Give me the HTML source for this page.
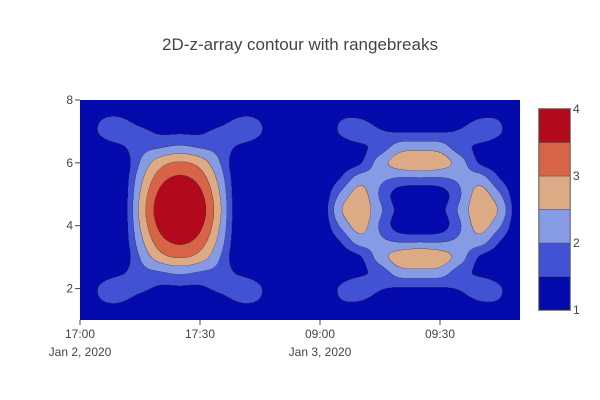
<!DOCTYPE html>
<html><head><meta charset="utf-8">
<style>
html,body{margin:0;padding:0;background:#fff;}
#root{position:relative;width:600px;height:400px;font-family:"Liberation Sans",sans-serif;color:#444;overflow:hidden;}
.t{position:absolute;font-size:12px;white-space:nowrap;}
</style></head>
<body>
<div id="root">
<div class="t" style="left:0;width:600px;text-align:center;top:35px;font-size:17px;">2D-z-array contour with rangebreaks</div>
<canvas id="cv" width="880" height="440" style="position:absolute;left:80px;top:100px;width:440px;height:220px;"></canvas>
<svg id="ax" width="600" height="400" style="position:absolute;left:0;top:0;"></svg>
</div>
<script>
// ---- data ----
const xTimes = ["2020-01-02 17:00","2020-01-02 17:05","2020-01-02 17:10","2020-01-02 17:15","2020-01-02 17:20","2020-01-02 17:25","2020-01-02 17:30","2020-01-02 17:35","2020-01-02 17:40","2020-01-02 17:45","2020-01-02 17:50","2020-01-02 17:55","2020-01-02 18:00",
"2020-01-03 09:00","2020-01-03 09:05","2020-01-03 09:10","2020-01-03 09:15","2020-01-03 09:20","2020-01-03 09:25","2020-01-03 09:30","2020-01-03 09:35","2020-01-03 09:40","2020-01-03 09:45","2020-01-03 09:50"];
const yVals = [1,1.5,2,2.5,3,3.5,4,4.5,5,5.5,6,6.5,7,7.5,8];
const zRows = [
[1,1,1,1,1,1,1,1,1,1,1,1,1, 1,1,1,1,1,1,1,1,1,1,1],
[1,1.4,1.45,1.1,1,1,1,1.1,1.45,1.4,1,1,1, 1,1.4,1.4,1.1,1,1,1,1.1,1.4,1.4,1],
[1,1.55,1.9,1.65,1.4,1.4,1.4,1.65,1.9,1.55,1,1,1, 1,1.55,1.85,1.55,1.45,1.45,1.45,1.55,1.85,1.55,1],
[1,1.2,1.4,1.8,1.95,2.09,1.95,1.8,1.4,1.2,1,1,1, 1,1.2,1.4,1.7,2.25,2.3,2.25,1.7,1.4,1.2,1],
[1,1,1,2.02,2.79,3.05,2.79,2.02,1,1,1,1,1, 1,1.2,1.45,2.25,2.75,2.9,2.75,2.25,1.45,1.2,1],
[1,1,1,2.3,3.28,3.6,3.28,2.3,1,1,1,1,1, 1,1.5,2.25,2.1,1.95,1.95,1.95,2.1,2.25,1.5,1],
[1,1,1,2.5,3.63,4.0,3.63,2.5,1,1,1,1,1, 1,2.05,2.7,1.95,1.2,1.05,1.2,1.95,2.7,2.05,1],
[1,1,1,2.6,3.8,4.2,3.8,2.6,1,1,1,1,1, 1,2.4,2.85,2.1,1.3,0.9,1.3,2.1,2.85,2.4,1],
[1,1,1,2.5,3.63,4.0,3.63,2.5,1,1,1,1,1, 1,2.05,2.7,1.95,1.2,1.05,1.2,1.95,2.7,2.05,1],
[1,1,1,2.3,3.28,3.6,3.28,2.3,1,1,1,1,1, 1,1.5,2.25,2.1,1.95,1.95,1.95,2.1,2.25,1.5,1],
[1,1,1,2.02,2.79,3.05,2.79,2.02,1,1,1,1,1, 1,1.2,1.45,2.25,2.75,2.9,2.75,2.25,1.45,1.2,1],
[1,1.2,1.4,1.8,1.95,2.09,1.95,1.8,1.4,1.2,1,1,1, 1,1.2,1.4,1.7,2.25,2.3,2.25,1.7,1.4,1.2,1],
[1,1.55,1.9,1.65,1.4,1.4,1.4,1.65,1.9,1.55,1,1,1, 1,1.55,1.85,1.55,1.45,1.45,1.45,1.55,1.85,1.55,1],
[1,1.4,1.45,1.1,1,1,1,1.1,1.45,1.4,1,1,1, 1,1.4,1.4,1.1,1,1,1,1.1,1.4,1.4,1],
[1,1,1,1,1,1,1,1,1,1,1,1,1, 1,1,1,1,1,1,1,1,1,1,1]
];
const contourStart = 1, contourSize = 0.5;
const bandColors = [[5,10,172],[65,82,212],[135,155,228],[220,170,132],[215,100,70],[178,10,28]];
const xTickTimes = ["2020-01-02 17:00","2020-01-02 17:30","2020-01-03 09:00","2020-01-03 09:30"];
const xTickLines = [["17:00","Jan 2, 2020"],["17:30",""],["09:00","Jan 3, 2020"],["09:30",""]];
const yTicks = [2,4,6,8];
const cbTicks = [1,2,3,4];
const breakBounds = ["2020-01-02 18:00","2020-01-03 09:00"];

// ---- axes ----
const PL=80, PR=520, PT=100, PB=320;
function tmin(s){const d=new Date(s.replace(' ','T')+':00Z');return d.getTime()/60000;}
const x0=tmin(xTimes[0]), bS=tmin(breakBounds[0]), bE=tmin(breakBounds[1]), xEnd=tmin(xTimes[xTimes.length-1]);
const span=(bS-x0)+(xEnd-bE);
function xScale(s){let t=tmin(s);let u=t<=bS?t-x0:(bS-x0)+(t-bE);return PL+u/span*(PR-PL);}
const yMin=yVals[0], yMax=yVals[yVals.length-1];
function yScale(v){return PB-(v-yMin)/(yMax-yMin)*(PB-PT);}

// ---- render contour ----
const cv=document.getElementById('cv'), ctx=cv.getContext('2d');
const W=cv.width,H=cv.height,S=2;
const colPx=xTimes.map(xScale), rowPx=yVals.map(yScale);
function bracket(arr,v){
  for(let k=0;k<arr.length-1;k++){
    const a=arr[k],b=arr[k+1];
    if(a===b) continue;
    const lo=Math.min(a,b),hi=Math.max(a,b);
    if(v>=lo&&v<=hi) return [k,(v-a)/(b-a)];
  }
  return [arr.length-2,1];
}
const NR=zRows.length, NC=zRows[0].length;
function zAt(r,c){r=Math.max(0,Math.min(NR-1,r));c=Math.max(0,Math.min(NC-1,c));return zRows[r][c];}
function cr(p0,p1,p2,p3,t){return 0.5*((2*p1)+(-p0+p2)*t+(2*p0-5*p1+4*p2-p3)*t*t+(-p0+3*p1-3*p2+p3)*t*t*t);}
const band=new Int8Array(W*H);
const nb=bandColors.length;
for(let j=0;j<H;j++){
  const py=PT+(j+0.5)/S;
  const [r,fy]=bracket(rowPx,py);
  for(let i=0;i<W;i++){
    const px=PL+(i+0.5)/S;
    const [c,fx]=bracket(colPx,px);
    const rowv=[];
    for(let m=-1;m<=2;m++){
      rowv.push(cr(zAt(r+m,c-1),zAt(r+m,c),zAt(r+m,c+1),zAt(r+m,c+2),fx));
    }
    const z=cr(rowv[0],rowv[1],rowv[2],rowv[3],fy);
    let b=Math.floor((z-contourStart)/contourSize);
    if(b<0)b=0; if(b>nb-1)b=nb-1;
    band[j*W+i]=b;
  }
}
const img=ctx.createImageData(W,H);
for(let j=0;j<H;j++)for(let i=0;i<W;i++){
  const k=j*W+i,b=band[k];let c=bandColors[b];
  let edge=(i<W-1&&band[k+1]!==b)||(j<H-1&&band[k+W]!==b);
  let m=edge?0.45:1;
  img.data[k*4]=c[0]*m+(edge?20:0);img.data[k*4+1]=c[1]*m+(edge?20:0);img.data[k*4+2]=c[2]*m+(edge?20:0);img.data[k*4+3]=255;
}
ctx.putImageData(img,0,0);

// ---- svg axes ----
const NS='http://www.w3.org/2000/svg', svg=document.getElementById('ax');
function mk(tag,attrs,txt){const e=document.createElementNS(NS,tag);for(const k in attrs)e.setAttribute(k,attrs[k]);if(txt!==undefined)e.textContent=txt;svg.appendChild(e);return e;}
yTicks.forEach(v=>{
  const y=yScale(v);
  const tk=mk('line',{x1:PL-5,x2:PL,y1:y,y2:y,stroke:'#444','stroke-width':1});
  
  
  const t=mk('text',{x:PL-7,y:y+4,'text-anchor':'end','font-size':12,fill:'#444','font-family':'Liberation Sans, sans-serif'},String(v));
  
  
});
xTickTimes.forEach((s,i)=>{
  const x=xScale(s);
  const tk=mk('line',{x1:x,x2:x,y1:PB,y2:PB+5,stroke:'#444','stroke-width':1});
  
  
  const t=mk('text',{x:x,y:PB+18,'text-anchor':'middle','font-size':12,fill:'#444','font-family':'Liberation Sans, sans-serif'},xTickLines[i][0]);
  
  
  if(xTickLines[i][1]){
    const t2=mk('text',{x:x,y:PB+36,'text-anchor':'middle','font-size':12,fill:'#444','font-family':'Liberation Sans, sans-serif'},xTickLines[i][1]);
    
    
  }
});
// colorbar
const CBX=539,CBW=31,CBT=109,CBB=310;
const cbMin=cbTicks[0],cbMax=cbTicks[cbTicks.length-1];
function cbScale(v){return CBB-(v-cbMin)/(cbMax-cbMin)*(CBB-CBT);}
bandColors.forEach((c,i)=>{
  const v0=contourStart+i*contourSize,v1=v0+contourSize;
  const r=mk('rect',{x:CBX,y:cbScale(v1),width:CBW,height:cbScale(v0)-cbScale(v1),fill:`rgb(${c[0]},${c[1]},${c[2]})`,stroke:'#555','stroke-width':0.5});
  
  
});
const ol=mk('rect',{x:CBX-0.5,y:CBT-0.5,width:CBW+1,height:CBB-CBT+1,fill:'none',stroke:'#888','stroke-width':1});


cbTicks.forEach(v=>{
  const t=mk('text',{x:CBX+CBW+3,y:cbScale(v)+4,'font-size':12,fill:'#444','font-family':'Liberation Sans, sans-serif'},String(v));
  
  
});
</script>
</body></html>
